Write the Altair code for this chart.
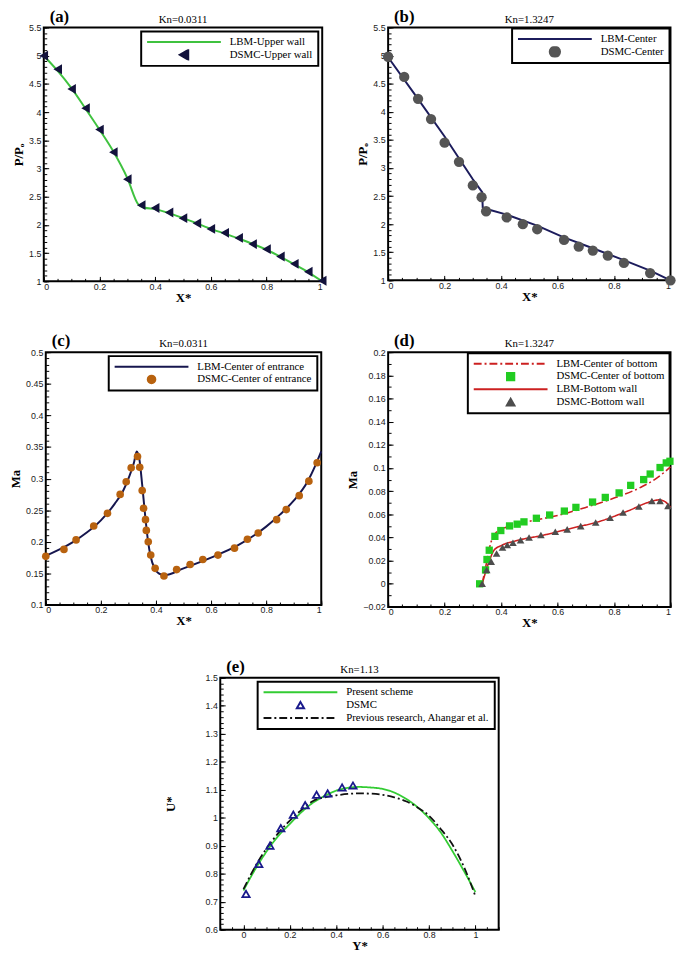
import altair as alt
import pandas as pd

SERIF = "Liberation Serif"
SANS = "Liberation Sans"

# ---------------- (a) Kn=0.0311, pressure along upper wall ----------------
A_LBM_X = [0, 0.05, 0.1, 0.15, 0.2, 0.25, 0.3, 0.34, 0.36, 0.4, 0.5, 0.6, 0.7, 0.8, 0.9, 0.95, 1.0]
A_LBM_Y = [5.0, 4.73, 4.42, 4.06, 3.69, 3.30, 2.83, 2.36, 2.31, 2.28, 2.12, 1.93, 1.76, 1.56, 1.30, 1.16, 1.0]
A_DSMC_X = [0, 0.05, 0.1, 0.15, 0.2, 0.25, 0.3, 0.35, 0.4, 0.45, 0.5, 0.55, 0.6, 0.65, 0.7, 0.75, 0.8, 0.85, 0.9, 0.95, 1.0]
A_DSMC_Y = [5.0, 4.76, 4.41, 4.07, 3.69, 3.29, 2.81, 2.35, 2.30, 2.22, 2.12, 2.03, 1.93, 1.86, 1.77, 1.66, 1.57, 1.44, 1.31, 1.17, 1.01]

# ---------------- (b) Kn=1.3247, pressure along center ----------------
B_LBM_X = [0, 0.1, 0.2, 0.3, 0.333, 0.335, 0.355, 0.42, 0.53, 0.62, 0.72, 0.83, 0.93, 1.0]
B_LBM_Y = [4.97, 4.27, 3.56, 2.80, 2.57, 2.30, 2.26, 2.17, 1.97, 1.77, 1.58, 1.37, 1.17, 1.0]
B_DSMC_X = [0.0, 0.057, 0.106, 0.152, 0.2, 0.251, 0.3, 0.331, 0.347, 0.42, 0.477, 0.528, 0.623, 0.675, 0.725, 0.778, 0.835, 0.928, 1.0]
B_DSMC_Y = [4.98, 4.62, 4.23, 3.87, 3.45, 3.11, 2.69, 2.48, 2.23, 2.12, 2.00, 1.91, 1.72, 1.60, 1.53, 1.44, 1.31, 1.13, 1.0]

# ---------------- (c) Kn=0.0311, Mach at center of entrance ----------------
C_LBM_X = [0, 0.05, 0.1, 0.15, 0.2, 0.25, 0.28, 0.3, 0.32, 0.33, 0.34, 0.35, 0.36, 0.37, 0.38, 0.395, 0.41, 0.43,
           0.5, 0.6, 0.7, 0.8, 0.85, 0.9, 0.95, 0.98, 1.0]
C_LBM_Y = [0.178, 0.188, 0.200, 0.215, 0.234, 0.260, 0.280, 0.300, 0.325, 0.343, 0.330, 0.290, 0.245, 0.205, 0.178,
           0.158, 0.150, 0.147, 0.158, 0.175, 0.195, 0.224, 0.243, 0.265, 0.295, 0.322, 0.343]
C_DSMC_X = [0.0, 0.066, 0.110, 0.174, 0.224, 0.270, 0.292, 0.310, 0.333, 0.341, 0.350, 0.355, 0.362, 0.365, 0.372,
            0.381, 0.397, 0.429, 0.475, 0.524, 0.570, 0.625, 0.685, 0.732, 0.771, 0.838, 0.873, 0.920, 0.955, 0.985]
C_DSMC_Y = [0.177, 0.188, 0.203, 0.225, 0.245, 0.275, 0.295, 0.317, 0.335, 0.318, 0.281, 0.253, 0.235, 0.218, 0.200,
            0.179, 0.158, 0.146, 0.156, 0.164, 0.172, 0.179, 0.190, 0.204, 0.214, 0.235, 0.251, 0.273, 0.296, 0.325]

# ---------------- (d) Kn=1.3247, Mach at bottom ----------------
D_LBM_C_X = [0.333, 0.35, 0.36, 0.37, 0.385, 0.42, 0.5, 0.6, 0.7, 0.8, 0.9, 0.95, 1.0]
D_LBM_C_Y = [0.0, 0.020, 0.032, 0.040, 0.045, 0.049, 0.054, 0.059, 0.066, 0.074, 0.084, 0.091, 0.101]
D_DSMC_C_X = [0.324, 0.345, 0.350, 0.358, 0.378, 0.399, 0.430, 0.457, 0.481, 0.525, 0.572, 0.624, 0.665, 0.724, 0.769,
              0.818, 0.859, 0.905, 0.928, 0.963, 0.985, 0.998]
D_DSMC_C_Y = [0.0, 0.012, 0.021, 0.029, 0.041, 0.046, 0.050, 0.0515, 0.0535, 0.0566, 0.0594, 0.0628, 0.066, 0.0706,
              0.0746, 0.0785, 0.085, 0.090, 0.0948, 0.1004, 0.1044, 0.1058]
D_LBM_B_X = [0.333, 0.345, 0.36, 0.375, 0.4, 0.45, 0.55, 0.65, 0.75, 0.85, 0.93, 0.96, 0.98, 1.0]
D_LBM_B_Y = [0.0, 0.010, 0.021, 0.029, 0.033, 0.037, 0.042, 0.048, 0.054, 0.063, 0.071, 0.0725, 0.071, 0.066]
D_DSMC_B_X = [0.333, 0.349, 0.365, 0.384, 0.405, 0.422, 0.442, 0.469, 0.499, 0.541, 0.592, 0.634, 0.682, 0.735, 0.786,
              0.832, 0.888, 0.934, 0.963, 0.991]
D_DSMC_B_Y = [0.0, 0.012, 0.0192, 0.0262, 0.0313, 0.0335, 0.0355, 0.0377, 0.040, 0.0422, 0.045, 0.047, 0.0498, 0.0529,
              0.0571, 0.0616, 0.0667, 0.0715, 0.0715, 0.0673]

# ---------------- (e) Kn=1.13, velocity profile ----------------
E_Y = [0, 0.05, 0.1, 0.15, 0.2, 0.25, 0.3, 0.35, 0.4, 0.45, 0.5, 0.55, 0.6, 0.65, 0.7, 0.75, 0.8, 0.85, 0.9, 0.95, 1.0]
E_PRESENT = [0.74, 0.815, 0.88, 0.935, 0.978, 1.02, 1.054, 1.078, 1.097, 1.107, 1.11, 1.108, 1.103, 1.09, 1.068, 1.038,
             0.998, 0.948, 0.882, 0.81, 0.734]
E_PREVIOUS = [0.745, 0.825, 0.891, 0.945, 0.99, 1.028, 1.06, 1.073, 1.08, 1.085, 1.087, 1.086, 1.082, 1.073, 1.059,
              1.037, 1.007, 0.96, 0.905, 0.825, 0.719]
E_DSMC_X = [0.011, 0.066, 0.114, 0.161, 0.215, 0.266, 0.315, 0.363, 0.425, 0.472]
E_DSMC_Y = [0.728, 0.835, 0.90, 0.963, 1.011, 1.045, 1.082, 1.087, 1.108, 1.115]


def ticks(start, stop, step):
    n = int(round((stop - start) / step))
    return [round(start + i * step, 6) for i in range(n + 1)]


def make_df(sets):
    rows = []
    for name, xs, ys in sets:
        for x, y in zip(xs, ys):
            rows.append({"series": name, "x": x, "y": y})
    return pd.DataFrame(rows)


def panel(tag, kn, line_sets, point_sets, domain, colors, shapes, sizes, dashes,
          xdom, ydom, xmaj, xmin, ymaj, ymin, ytitle, xtitle, width, height,
          hollow=False, line_width=2.0, interp="monotone", leg_offset=4, tag_dx=6, ytitle_pad=3):
    xs = alt.Scale(domain=xdom, nice=False, zero=False)
    ys = alt.Scale(domain=ydom, nice=False, zero=False)
    cs = alt.Scale(domain=domain, range=colors)
    ss = alt.Scale(domain=domain, range=shapes)
    zs = alt.Scale(type="ordinal", domain=domain, range=sizes)
    leg = alt.Legend(title=None, offset=leg_offset)
    x_main = alt.Axis(orient="bottom", values=xmaj, format="~g", offset=-5, tickSize=5, domain=False,
                      labelPadding=1, title=xtitle, titlePadding=0)
    x_minor = alt.Axis(orient="bottom", values=xmin, offset=-3, tickSize=3, domain=False, labels=False, title=None)
    y_main = alt.Axis(orient="left", values=ymaj, format="~g", offset=-5, tickSize=5, domain=False,
                      labelPadding=3, title=ytitle, titlePadding=ytitle_pad)
    y_minor = alt.Axis(orient="left", values=ymin, offset=-3, tickSize=3, domain=False, labels=False, title=None)

    line_enc = dict(color=alt.Color("series:N", scale=cs, legend=leg))
    pt_enc = dict(color=alt.Color("series:N", scale=cs, legend=leg),
                  shape=alt.Shape("series:N", scale=ss, legend=leg),
                  size=alt.Size("series:N", scale=zs, legend=leg))
    if dashes:
        ds = alt.Scale(domain=domain, range=dashes)
        line_enc["strokeDash"] = alt.StrokeDash("series:N", scale=ds, legend=leg)

    lines = alt.Chart(make_df(line_sets)).mark_line(strokeWidth=line_width, interpolate=interp).encode(
        x=alt.X("x:Q", scale=xs, axis=x_main),
        y=alt.Y("y:Q", scale=ys, axis=y_main),
        **line_enc)
    pts = alt.Chart(make_df(point_sets)).mark_point(filled=not hollow, opacity=1, strokeWidth=1.8).encode(
        x=alt.X("x:Q", scale=xs, axis=x_minor),
        y=alt.Y("y:Q", scale=ys, axis=y_minor),
        **pt_enc)
    label = alt.Chart(pd.DataFrame({"t": [tag]})).mark_text(
        font=SERIF, fontSize=17, fontWeight="bold", align="left", baseline="alphabetic", color="black"
    ).encode(text="t:N", x=alt.value(tag_dx), y=alt.value(-6))
    title = alt.Chart(pd.DataFrame({"t": [kn]})).mark_text(
        font=SERIF, fontSize=11, align="center", baseline="alphabetic", color="black"
    ).encode(text="t:N", x=alt.value(width / 2), y=alt.value(-5))
    return alt.layer(lines, pts, label, title).resolve_axis(x="independent", y="independent").properties(
        width=width, height=height)


XMAJ = ticks(0, 1, 0.2)
XMIN = ticks(0, 1, 0.05)
LINE = "stroke"

pa = panel("(a)", "Kn=0.0311",
           [("LBM-Upper wall", A_LBM_X, A_LBM_Y)],
           [("DSMC-Upper wall", A_DSMC_X, A_DSMC_Y)],
           ["LBM-Upper wall", "DSMC-Upper wall"], ["#3fc23f", "#12123c"], [LINE, "triangle-left"], [5625, 100], None,
           [0, 1], [1, 5.5], XMAJ, XMIN, ticks(1, 5.5, 0.5), ticks(1, 5.5, 0.1), "P/Pₒ", "X*", 283, 258)

pb = panel("(b)", "Kn=1.3247",
           [("LBM-Center", B_LBM_X, B_LBM_Y)],
           [("DSMC-Center", B_DSMC_X, B_DSMC_Y)],
           ["LBM-Center", "DSMC-Center"], ["#1c1c5c", "#555555"], [LINE, "circle"], [5625, 110], None,
           [0, 1], [1, 5.5], XMAJ, XMIN, ticks(1, 5.5, 0.5), ticks(1, 5.5, 0.1), "P/Pₒ", "X*", 287, 257,
           interp="linear", leg_offset=1)

pc = panel("(c)", "Kn=0.0311",
           [("LBM-Center of entrance", C_LBM_X, C_LBM_Y)],
           [("DSMC-Center of entrance", C_DSMC_X, C_DSMC_Y)],
           ["LBM-Center of entrance", "DSMC-Center of entrance"], ["#16164e", "#b8620f"], [LINE, "circle"],
           [5625, 60], None,
           [0, 1], [0.1, 0.5], XMAJ, XMIN, ticks(0.1, 0.5, 0.05), ticks(0.1, 0.5, 0.01), "Ma", "X*", 280, 257)

D_DOM = ["LBM-Center of bottom", "DSMC-Center of bottom", "LBM-Bottom wall", "DSMC-Bottom wall"]
pd_ = panel("(d)", "Kn=1.3247",
            [(D_DOM[0], D_LBM_C_X, D_LBM_C_Y), (D_DOM[2], D_LBM_B_X, D_LBM_B_Y)],
            [(D_DOM[1], D_DSMC_C_X, D_DSMC_C_Y), (D_DOM[3], D_DSMC_B_X, D_DSMC_B_Y)],
            D_DOM, ["#cc2020", "#22cc22", "#cc2020", "#4d4d4d"], [LINE, "square", LINE, "triangle-up"],
            [5625, 55, 5625, 60], [[8, 3, 2, 3], [1, 0], [1, 0], [1, 0]],
            [0, 1], [-0.02, 0.2], XMAJ, XMIN, ticks(-0.02, 0.2, 0.02), ticks(-0.02, 0.2, 0.01), "Ma", "X*", 287, 259,
            line_width=1.6, leg_offset=1)

E_DOM = ["Present scheme", "DSMC", "Previous research, Ahangar et al."]
pe = panel("(e)", "Kn=1.13",
           [(E_DOM[0], E_Y, E_PRESENT), (E_DOM[2], E_Y, E_PREVIOUS)],
           [(E_DOM[1], E_DSMC_X, E_DSMC_Y)],
           E_DOM, ["#33cc33", "#1a1a8c", "#111111"], [LINE, "triangle-up", LINE], [5625, 55, 5625],
           [[1, 0], [1, 0], [8, 3, 2, 3]],
           [-0.1, 1.1], [0.6, 1.5], XMAJ, ticks(-0.1, 1.1, 0.05), ticks(0.6, 1.5, 0.1), ticks(0.6, 1.5, 0.02),
           "U*", "Y*", 283, 256, hollow=True, line_width=1.8, ytitle_pad=28)

RES = dict(color="independent", shape="independent", size="independent", strokeDash="independent")
row1 = alt.hconcat(pa, pb, spacing=28).resolve_scale(**RES)
row2 = alt.hconcat(pc, pd_, spacing=20).resolve_scale(**RES)

chart = alt.vconcat(row1, row2, pe, spacing=27, center=True).resolve_scale(**RES).properties(
    padding={"top": -9, "left": 0, "right": 0, "bottom": 0}
).configure_view(
    stroke="black", strokeWidth=2
).configure_axis(
    labelFont=SANS, labelFontSize=9, labelColor="#1a1a1a", tickColor="black", tickWidth=1,
    titleFont=SERIF, titleFontSize=13, titleFontWeight="bold", titleColor="black", grid=False
).configure_legend(
    orient="top-right", padding=5, strokeColor="black", strokeWidth=2, fillColor="white",
    labelFont=SERIF, labelFontSize=11, labelColor="black", clipHeight=11.5, rowPadding=0,
    symbolStrokeWidth=2, labelOffset=8
)

chart.save("out.html", embed_options={"renderer": "svg", "actions": False})
